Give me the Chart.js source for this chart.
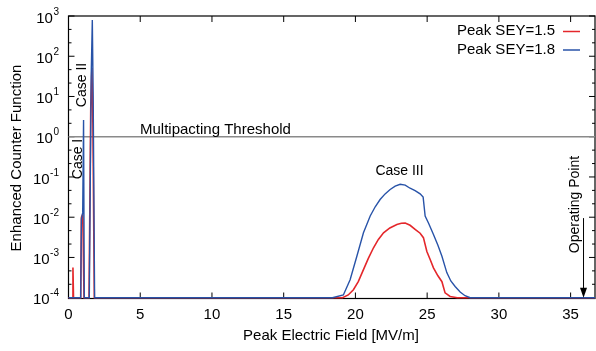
<!DOCTYPE html>
<html>
<head>
<meta charset="utf-8">
<script src="https://cdn.jsdelivr.net/npm/chart.js@4"></script>
<style>
  html, body { margin: 0; padding: 0; background: #fff; }
</style>
</head>
<body>
<canvas id="mp-chart" width="596" height="351"></canvas>
<script>
// Peak electric field [MV/m] and enhanced counter function, peak SEY = 1.5
const field15 = [0, 0.27, 0.31, 0.35, 0.85, 0.9, 1.0, 1.08, 1.43, 1.55, 1.63, 1.7, 1.8,
  19.1, 19.5, 19.86, 20.2, 20.56, 20.9, 21.26, 21.6, 21.96, 22.4, 22.89, 23.2, 23.47, 23.81,
  24.16, 24.51, 24.74, 24.98, 25.21, 25.44, 25.75, 26.03, 26.25, 26.6, 27.1, 36.7];
const sey15 = [1e-4, 1e-4, 5.6e-4, 1e-4, 1e-4, 0.01, 0.012, 1e-4, 1e-4, 5, 51, 2, 1e-4,
  1e-4, 1.17e-4, 1.58e-4, 2.5e-4, 5e-4, 9.5e-4, 1.74e-3, 2.8e-3, 4.1e-3, 5.4e-3, 6.6e-3, 7.1e-3, 7.2e-3, 6.3e-3,
  5e-3, 4e-3, 3.1e-3, 1.41e-3, 8.9e-4, 5.5e-4, 3.5e-4, 2.5e-4, 1.32e-4, 1.07e-4, 1e-4, 1e-4];

// Peak SEY = 1.8
const field18 = [0, 0.85, 0.9, 0.99, 1.05, 1.1, 1.45, 1.58, 1.66, 1.72, 1.82,
  18.4, 19.16, 19.63, 20.1, 20.56, 21.03, 21.38, 21.72, 22.07, 22.42, 22.77, 23.12, 23.47, 23.81,
  24.16, 24.51, 24.72, 24.86, 25.1, 25.44, 25.75, 26.03, 26.37, 26.65, 26.95, 27.3, 27.64, 28.0, 36.7];
const sey18 = [1e-4, 1e-4, 0.009, 0.013, 2.6, 1e-4, 1e-4, 30, 800, 10, 1e-4,
  1e-4, 1.17e-4, 2.8e-4, 1.07e-3, 4.1e-3, 0.0107, 0.0182, 0.0275, 0.038, 0.049, 0.059, 0.066, 0.063, 0.0525,
  0.0457, 0.038, 0.0316, 0.0107, 0.0071, 0.0037, 0.002, 0.00107, 0.00042, 0.00026, 0.00019, 0.000138, 0.000112, 1e-4, 1e-4];

const xTicks = [0, 5, 10, 15, 20, 25, 30, 35];
const yExps = [3, 2, 1, 0, -1, -2, -3, -4];
const thresholdLevel = 1;
const operatingPoint = 35.9;
const arrowTop = 0.0095;

const RED = '#e4272b';
const BLUE = '#2853a8';
const FONT = '"Liberation Sans", Arial, sans-serif';

function pts(xs, ys) {
  return xs.map((v, i) => ({ x: v, y: ys[i] }));
}

const decor = {
  id: 'decor',
  beforeDatasetsDraw(chart) {
    const { ctx, chartArea: a, scales: { x, y } } = chart;
    ctx.save();
    ctx.strokeStyle = '#000';
    ctx.lineWidth = 1.2;
    ctx.strokeRect(a.left, a.top, a.right - a.left, a.bottom - a.top);
    ctx.lineWidth = 1;
    ctx.beginPath();
    xTicks.forEach(v => {
      const px = x.getPixelForValue(v);
      ctx.moveTo(px, a.bottom); ctx.lineTo(px, a.bottom - 6);
      ctx.moveTo(px, a.top); ctx.lineTo(px, a.top + 6);
    });
    yExps.forEach(e => {
      const py = y.getPixelForValue(Math.pow(10, e));
      ctx.moveTo(a.left, py); ctx.lineTo(a.left + 6, py);
      ctx.moveTo(a.right, py); ctx.lineTo(a.right - 6, py);
      if (e < 3) {
        [1 / 3, 2 / 3].forEach(f => {
          const pm = y.getPixelForValue(Math.pow(10, e + f));
          ctx.moveTo(a.left, pm); ctx.lineTo(a.left + 3, pm);
          ctx.moveTo(a.right, pm); ctx.lineTo(a.right - 3, pm);
        });
      }
    });
    ctx.stroke();
    ctx.restore();
  },
  afterDatasetsDraw(chart) {
    const { ctx, chartArea: a, scales: { x, y } } = chart;
    ctx.save();
    ctx.fillStyle = '#000';
    ctx.textBaseline = 'middle';

    // x tick labels
    ctx.font = '15px ' + FONT;
    ctx.textAlign = 'center';
    xTicks.forEach(v => ctx.fillText(String(v), x.getPixelForValue(v), 315));

    // y tick labels 10^n
    yExps.forEach(e => {
      const py = y.getPixelForValue(Math.pow(10, e));
      ctx.font = '10px ' + FONT;
      const exp = String(e);
      const ew = ctx.measureText(exp).width;
      const ex = 59 - ew;
      ctx.textAlign = 'left';
      ctx.fillText(exp, ex, py - 4);
      ctx.font = '15px ' + FONT;
      ctx.textAlign = 'right';
      ctx.fillText('10', ex - 0.5, py + 2.5);
    });

    // axis titles
    ctx.font = '15px ' + FONT;
    ctx.textAlign = 'center';
    ctx.fillText('Peak Electric Field [MV/m]', 331, 336);
    ctx.save();
    ctx.translate(16.5, 158);
    ctx.rotate(-Math.PI / 2);
    ctx.fillText('Enhanced Counter Function', 0, 0);
    ctx.restore();

    // threshold label
    ctx.textAlign = 'left';
    ctx.fillText('Multipacting Threshold', 140, 130);

    // case labels
    ctx.font = '14px ' + FONT;
    ctx.textAlign = 'center';
    ctx.fillText('Case III', 399.5, 171);
    [['Case I', 78, 159], ['Case II', 82, 85], ['Operating Point', 575, 204.5]].forEach(([t, cx, cy]) => {
      ctx.save();
      ctx.translate(cx, cy);
      ctx.rotate(-Math.PI / 2);
      ctx.fillText(t, 0, 0);
      ctx.restore();
    });

    // operating point arrow
    const ax = x.getPixelForValue(operatingPoint);
    const ay0 = y.getPixelForValue(arrowTop);
    const ay1 = y.getPixelForValue(1e-4);
    ctx.strokeStyle = '#000';
    ctx.lineWidth = 1;
    ctx.beginPath();
    ctx.moveTo(ax, ay0); ctx.lineTo(ax, ay1 - 6);
    ctx.stroke();
    ctx.beginPath();
    ctx.moveTo(ax, ay1);
    ctx.lineTo(ax - 3.5, ay1 - 10);
    ctx.lineTo(ax + 3.5, ay1 - 10);
    ctx.closePath();
    ctx.fill();

    // legend
    ctx.font = '15px ' + FONT;
    ctx.textAlign = 'right';
    ctx.lineWidth = 1.5;
    chart.data.datasets.filter(d => d.inLegend).sort((p, q) => p.legendRow - q.legendRow).forEach((d, i) => {
      const ly = 31 + i * 18.5;
      ctx.fillStyle = '#000';
      ctx.fillText(d.label, 555, ly);
      ctx.strokeStyle = d.borderColor;
      ctx.beginPath();
      ctx.moveTo(563, ly + 0.5); ctx.lineTo(580, ly + 0.5);
      ctx.stroke();
    });
    ctx.restore();
  }
};

new Chart(document.getElementById('mp-chart'), {
  type: 'line',
  data: {
    datasets: [
      {
        label: 'Peak SEY=1.8',
        data: pts(field18, sey18),
        borderColor: BLUE,
        borderWidth: 1.4,
        order: 0,
        inLegend: true,
        legendRow: 1
      },
      {
        label: 'Peak SEY=1.5',
        data: pts(field15, sey15),
        borderColor: RED,
        borderWidth: 1.6,
        order: 1,
        inLegend: true,
        legendRow: 0
      },
      {
        label: 'Multipacting Threshold',
        data: pts([0, 36.7], [thresholdLevel, thresholdLevel]),
        borderColor: '#8a8a8a',
        borderWidth: 1.4,
        order: 2
      }
    ]
  },
  options: {
    responsive: false,
    animation: false,
    events: [],
    layout: { padding: { left: 68.5, right: 1, top: 16, bottom: 52.5 } },
    elements: { point: { radius: 0 }, line: { tension: 0 } },
    datasets: { line: { clip: 3 } },
    scales: {
      x: { type: 'linear', min: 0, max: 36.7, display: false },
      y: { type: 'logarithmic', min: 0.955e-4, max: 1000, display: false }
    },
    plugins: {
      legend: { display: false },
      tooltip: { enabled: false }
    }
  },
  plugins: [decor]
});
</script>
</body>
</html>
